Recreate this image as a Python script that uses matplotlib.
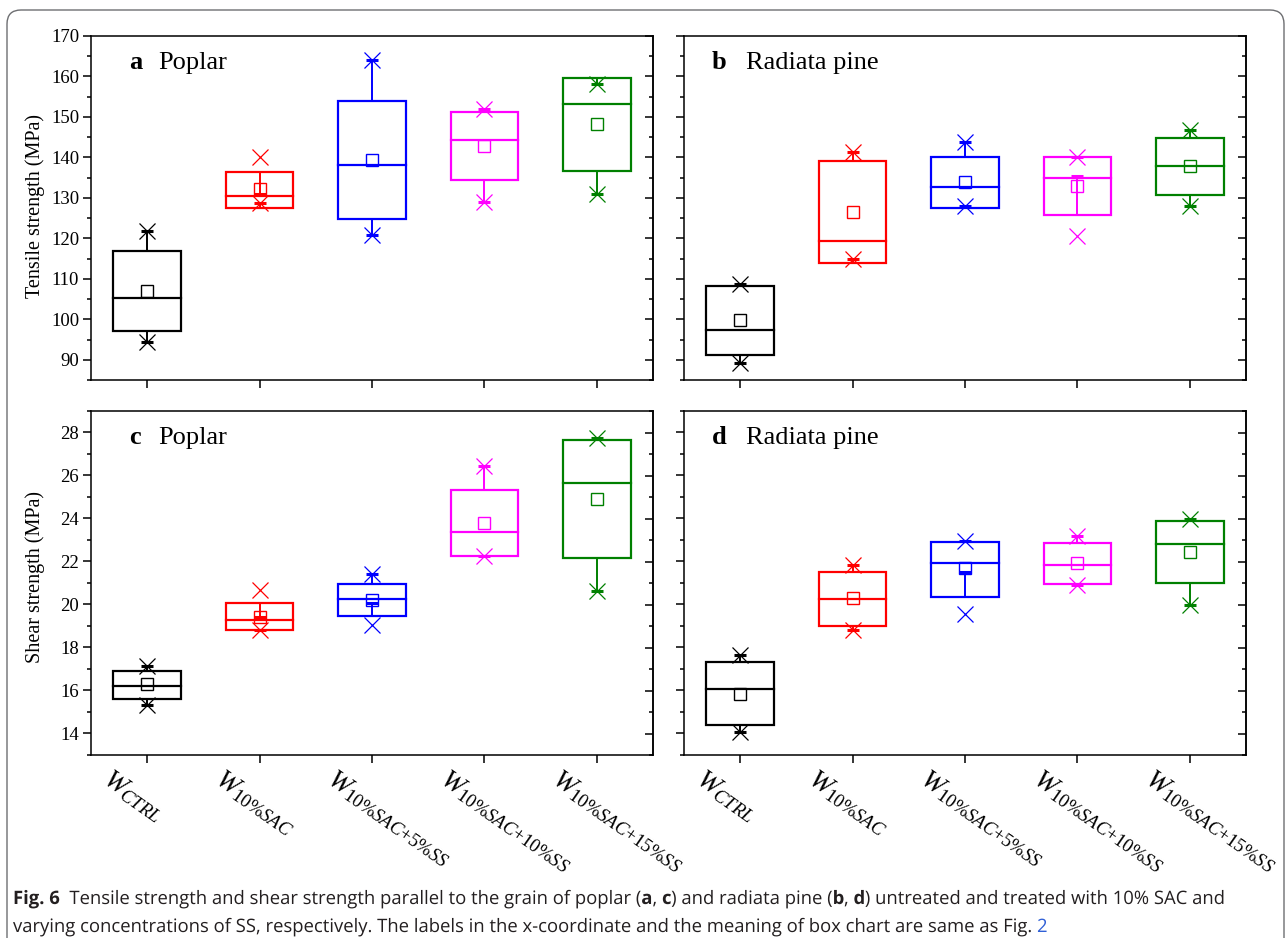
import numpy as np
import matplotlib
matplotlib.use('Agg')
import matplotlib.pyplot as plt
from matplotlib.ticker import MultipleLocator
from matplotlib.patches import Rectangle, FancyBboxPatch, PathPatch
from matplotlib.transforms import (IdentityTransform, ScaledTranslation,
                                   blended_transform_factory, Affine2D)
from matplotlib.textpath import TextPath
from matplotlib.font_manager import FontProperties

# groups (x categories) and colours
group_labels = [r'$\mathit{W}_{\mathit{CTRL}}$',
                r'$\mathit{W}_{\mathit{10\%SAC}}$',
                r'$\mathit{W}_{\mathit{10\%SAC{+}5\%SS}}$',
                r'$\mathit{W}_{\mathit{10\%SAC{+}10\%SS}}$',
                r'$\mathit{W}_{\mathit{10\%SAC{+}15\%SS}}$']
colors = ['black', '#ff0000', '#0000ff', '#ff00ff', '#008000']

# a: tensile strength, poplar (MPa)
a_q1 = [97.2, 127.5, 124.7, 134.4, 136.7]
a_med = [105.2, 130.5, 138.1, 144.2, 153.3]
a_q3 = [116.8, 136.4, 154.0, 151.1, 159.5]
a_mean = [107.1, 132.1, 139.4, 142.8, 148.2]
a_lo = [94.4, 128.8, 120.9, 129.1, 130.9]
a_hi = [121.9, 140.1, 164.1, 151.9, 158.1]
a_wlo = [94.4, 128.8, 120.9, 129.1, 130.9]
a_whi = [121.9, 131.0, 164.1, 151.9, 158.1]

# b: tensile strength, radiata pine (MPa)
b_q1 = [91.2, 114.0, 127.6, 125.8, 130.7]
b_med = [97.3, 119.4, 132.6, 135.0, 138.0]
b_q3 = [108.2, 139.1, 140.2, 140.0, 144.9]
b_mean = [99.8, 126.5, 134.0, 133.0, 137.9]
b_lo = [89.2, 114.9, 128.1, 120.7, 127.9]
b_hi = [108.7, 141.4, 143.7, 140.1, 146.8]
b_wlo = [89.2, 114.9, 128.1, 135.5, 127.9]
b_whi = [108.7, 141.4, 143.7, 140.0, 146.8]

# c: shear strength, poplar (MPa)
c_q1 = [15.61, 18.80, 19.46, 22.25, 22.15]
c_med = [16.20, 19.30, 20.24, 23.35, 25.66]
c_q3 = [16.90, 20.07, 20.97, 25.32, 27.64]
c_mean = [16.28, 19.44, 20.22, 23.79, 24.89]
c_lo = [15.33, 18.83, 19.03, 22.25, 20.64]
c_hi = [17.16, 20.66, 21.43, 26.45, 27.74]
c_wlo = [15.33, 18.83, 20.07, 22.25, 20.64]
c_whi = [17.16, 19.42, 21.43, 26.45, 27.74]

# d: shear strength, radiata pine (MPa)
d_q1 = [14.40, 19.02, 20.37, 20.97, 20.98]
d_med = [16.07, 20.24, 21.94, 21.84, 22.83]
d_q3 = [17.31, 21.51, 22.89, 22.87, 23.88]
d_mean = [15.86, 20.29, 21.70, 21.94, 22.42]
d_lo = [14.08, 18.80, 19.58, 20.89, 19.99]
d_hi = [17.67, 21.85, 22.95, 23.18, 23.99]
d_wlo = [14.08, 18.80, 21.51, 20.89, 19.99]
d_whi = [17.67, 21.85, 22.95, 23.18, 23.99]

# caption pieces: (text, bold, colour)
cap_col = '#231f20'
link_col = '#2f5fd6'
caption_line1 = [('Fig. 6', True, cap_col),
                 ('  Tensile strength and shear strength parallel to the grain of poplar (', False, cap_col),
                 ('a', True, cap_col), (', ', False, cap_col), ('c', True, cap_col),
                 (') and radiata pine (', False, cap_col),
                 ('b', True, cap_col), (', ', False, cap_col), ('d', True, cap_col),
                 (') untreated and treated with 10% SAC and', False, cap_col)]
caption_line2 = [('varying concentrations of SS, respectively. The labels in the x-coordinate '
                  'and the meaning of box chart are same as Fig. ', False, cap_col),
                 ('2', False, link_col)]

W, H = 1287, 938

plt.rcParams['font.family'] = 'Liberation Serif'
plt.rcParams['mathtext.fontset'] = 'custom'
plt.rcParams['mathtext.it'] = 'Liberation Serif:italic'
plt.rcParams['mathtext.rm'] = 'Liberation Serif'

fig = plt.figure(figsize=(W / 100, H / 100), dpi=100)


def px_axes(x0, y0, x1, y1):
    return fig.add_axes([x0 / W, 1 - y1 / H, (x1 - x0) / W, (y1 - y0) / H])


def draw_panel(ax, q1, med, q3, mean, lo, hi, wlo, whi):
    x = np.arange(1, 6)
    bw = 0.6
    for i in range(5):
        c = colors[i]
        ax.add_patch(Rectangle((x[i] - bw / 2, q1[i]), bw, q3[i] - q1[i],
                               fill=False, ec=c, lw=1.6, zorder=3))
        ax.plot([x[i] - bw / 2, x[i] + bw / 2], [med[i], med[i]], color=c, lw=1.6, zorder=3)
        ax.plot([x[i], x[i]], [q3[i], whi[i]], color=c, lw=1.4, zorder=3)
        ax.plot([x[i], x[i]], [q1[i], wlo[i]], color=c, lw=1.4, zorder=3)
        ax.plot([x[i], x[i]], [wlo[i], whi[i]], ls='none', marker='_', ms=9, mew=2.2,
                color=c, zorder=4)
        ax.plot([x[i], x[i]], [lo[i], hi[i]], ls='none', marker='x', ms=11.5, mew=0.9,
                color=c, zorder=4)
        ax.plot(x[i], mean[i], ls='none', marker='s', ms=8, mfc='none', mec=c, mew=1.0,
                zorder=4)
    ax.set_xlim(0.5, 5.5)
    ax.set_xticks(x)
    ax.tick_params(axis='x', direction='out', length=5.5, width=1.1, labelbottom=False)
    for s in ax.spines.values():
        s.set_linewidth(1.1)


def style_y(ax, major, minor, lim, labels):
    ax.set_ylim(*lim)
    ax.yaxis.set_major_locator(MultipleLocator(major))
    ax.yaxis.set_minor_locator(MultipleLocator(minor))
    ax.tick_params(axis='y', which='major', direction='out', length=5.5, width=1.1,
                   labelsize=13.5, labelleft=labels, pad=3)
    ax.tick_params(axis='y', which='minor', direction='out', length=3.2, width=1.1)
    sec = ax.secondary_yaxis('right')
    sec.yaxis.set_major_locator(MultipleLocator(major))
    sec.yaxis.set_minor_locator(MultipleLocator(minor))
    sec.tick_params(axis='y', which='major', direction='in', length=5.5, width=1.1,
                    labelright=False)
    sec.tick_params(axis='y', which='minor', direction='in', length=3.2, width=1.1)
    sec.spines['right'].set_linewidth(1.1)


def panel_title(ax, letter, name, xl, xn):
    ax.text(xl, 0.905, letter, transform=ax.transAxes, fontsize=19, fontweight='bold',
            va='baseline')
    ax.text(xn, 0.905, name, transform=ax.transAxes, fontsize=19, va='baseline')


ax_a = px_axes(91, 36, 653, 380)
ax_b = px_axes(684, 36, 1246, 380)
ax_c = px_axes(91, 411, 653, 755)
ax_d = px_axes(684, 411, 1246, 755)

draw_panel(ax_a, a_q1, a_med, a_q3, a_mean, a_lo, a_hi, a_wlo, a_whi)
draw_panel(ax_b, b_q1, b_med, b_q3, b_mean, b_lo, b_hi, b_wlo, b_whi)
draw_panel(ax_c, c_q1, c_med, c_q3, c_mean, c_lo, c_hi, c_wlo, c_whi)
draw_panel(ax_d, d_q1, d_med, d_q3, d_mean, d_lo, d_hi, d_wlo, d_whi)

style_y(ax_a, 10, 5, (85, 170), True)
style_y(ax_b, 10, 5, (85, 170), False)
style_y(ax_c, 2, 1, (13, 29), True)
style_y(ax_d, 2, 1, (13, 29), False)

panel_title(ax_a, 'a', 'Poplar', 0.067, 0.120)
panel_title(ax_b, 'b', 'Radiata pine', 0.050, 0.110)
panel_title(ax_c, 'c', 'Poplar', 0.067, 0.120)
panel_title(ax_d, 'd', 'Radiata pine', 0.050, 0.110)

fig.text(35 / W, 1 - 206 / H, 'Tensile strength (MPa)', rotation=90, ha='center',
         va='center', fontsize=14.5)
fig.text(35 / W, 1 - 577 / H, 'Shear strength (MPa)', rotation=90, ha='center',
         va='center', fontsize=14.5)

# rotated category labels under the lower panels
for ax in (ax_c, ax_d):
    tr = blended_transform_factory(ax.transData, ax.transAxes)
    off = ScaledTranslation(-25 / 72, -8 / 72, fig.dpi_scale_trans)
    for i, lab in enumerate(group_labels):
        ax.text(i + 1, 0, lab, transform=tr + off, rotation=-35, rotation_mode='anchor',
                ha='left', va='top', fontsize=19.3)

# caption: a condensed sans look, made by squeezing glyph outlines horizontally
cap_size = 18.5
prop_n = FontProperties(family='Open Sans')
prop_b = FontProperties(family='Open Sans', weight='bold')


def adv(s, prop):
    full = TextPath((0, 0), 'x' + s + 'x', size=cap_size, prop=prop).get_extents()
    ref = TextPath((0, 0), 'xx', size=cap_size, prop=prop).get_extents()
    return full.width - ref.width


def line_width(pieces):
    return sum(adv(s, prop_b if b else prop_n) for s, b, c in pieces)


def draw_line(pieces, x0, baseline, sx):
    x = x0
    for s, b, c in pieces:
        prop = prop_b if b else prop_n
        tp = TextPath((0, 0), s, size=cap_size, prop=prop)
        tf = Affine2D().scale(sx, 1).translate(x, H - baseline)
        fig.add_artist(PathPatch(tp, fc=c, ec='none', lw=0, transform=tf + IdentityTransform()))
        x += adv(s, prop) * sx


squeeze = (1225 - 13) / line_width(caption_line1)
draw_line(caption_line1, 13, 904, squeeze)
draw_line(caption_line2, 13, 932, squeeze)

# rounded frame around the figure block
frame = FancyBboxPatch((7, -60), 1277, H - 10 + 60, boxstyle='round,pad=0,rounding_size=14',
                       fill=False, ec='#6d6e71', lw=1.0, transform=IdentityTransform())
fig.add_artist(frame)

fig.savefig('out.png', dpi=100)
